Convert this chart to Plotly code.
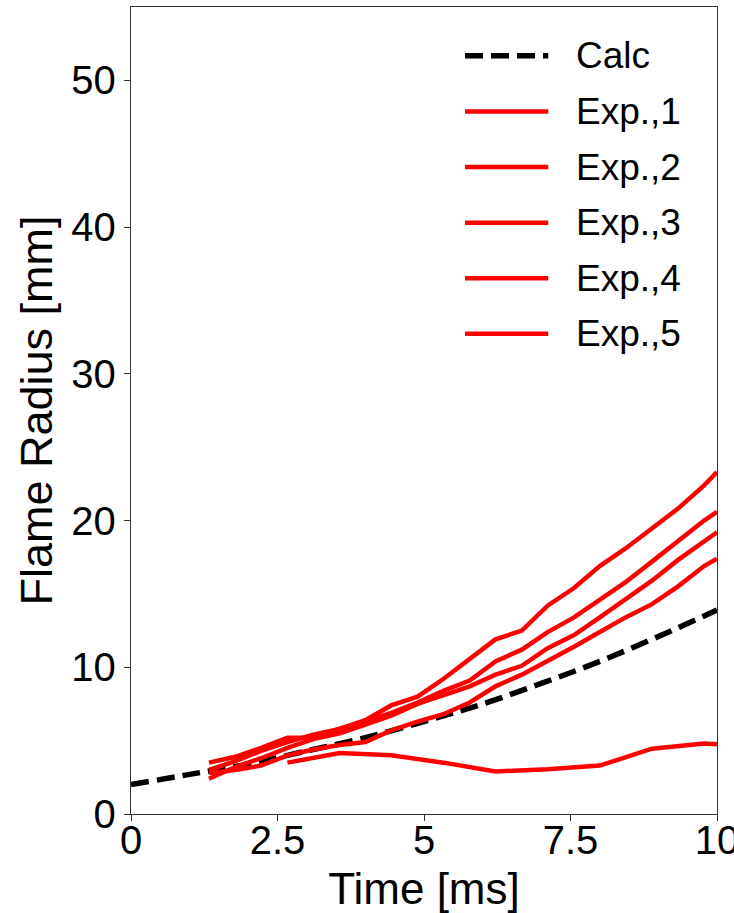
import plotly.graph_objects as go

# Calculated flame radius
calc_t = [0, 1, 2, 3, 4, 5, 6, 7, 8, 9, 10]
calc_r = [2.0, 2.7, 3.4, 4.3, 5.2, 6.3, 7.5, 8.9, 10.4, 12.1, 13.9]

# Experimental runs (time in ms, radius in mm)
t_exp = [1.33, 1.78, 2.22, 2.67, 3.11, 3.56, 4.0, 4.44, 4.89, 5.33, 5.78, 6.22,
         6.67, 7.11, 7.56, 8.0, 8.44, 8.89, 9.33, 9.78, 10.0]
exp1 = [3.5, 3.9, 4.5, 5.2, 5.2, 5.8, 6.4, 7.4, 8.0, 9.2, 10.6, 11.9,
        12.5, 14.2, 15.4, 16.9, 18.1, 19.5, 20.8, 22.4, 23.3]
exp2 = [3.0, 3.6, 4.3, 4.9, 5.4, 5.8, 6.3, 6.9, 7.6, 8.4, 9.1, 10.4,
        11.2, 12.4, 13.4, 14.6, 15.8, 17.2, 18.6, 20.0, 20.6]
exp3 = [2.4, 3.2, 3.8, 4.5, 5.1, 5.5, 6.1, 6.7, 7.5, 8.1, 8.7, 9.5,
        10.1, 11.3, 12.2, 13.4, 14.6, 15.9, 17.3, 18.6, 19.2]
exp4 = [2.8, 3.0, 3.3, 4.0, 4.4, 4.7, 4.9, 5.7, 6.3, 6.8, 7.6, 8.7,
        9.5, 10.4, 11.4, 12.4, 13.4, 14.3, 15.5, 16.9, 17.4]
t_exp5 = [2.67, 3.56, 4.44, 5.33, 6.22, 7.11, 8.0, 8.89, 9.78, 10.0]
exp5 = [3.5, 4.15, 4.0, 3.5, 2.9, 3.05, 3.3, 4.45, 4.8, 4.75]

series_names = ["Calc", "Exp.,1", "Exp.,2", "Exp.,3", "Exp.,4", "Exp.,5"]
x_ticks = [0, 2.5, 5, 7.5, 10]
x_tick_text = ["0", "2.5", "5", "7.5", "10"]
y_ticks = [0, 10, 20, 30, 40, 50]

FONT = "Liberation Sans, Arial, sans-serif"
RED = "#ff0000"
CALC_LINE = dict(color="black", width=5.5, dash="18px,8px")
EXP_LINE = dict(color=RED, width=4.5)

fig = go.Figure()
fig.add_trace(go.Scatter(x=calc_t, y=calc_r, mode="lines", name=series_names[0],
                         line=CALC_LINE, line_shape="spline"))
runs = [(t_exp, exp1), (t_exp, exp2), (t_exp, exp3), (t_exp, exp4), (t_exp5, exp5)]
for name, (tx, ry) in zip(series_names[1:], runs):
    fig.add_trace(go.Scatter(x=tx, y=ry, mode="lines", name=name, line=EXP_LINE))

# Legend drawn in the matplotlib style (long line samples)
leg_x0, leg_x1, leg_tx = 0.5700, 0.7120, 0.7560
leg_y0, leg_dy = 0.9395, 0.0689
for i, name in enumerate(series_names):
    yy = leg_y0 - i * leg_dy
    ln = dict(CALC_LINE) if i == 0 else dict(EXP_LINE)
    fig.add_shape(type="line", xref="paper", yref="paper",
                  x0=leg_x0, x1=leg_x1, y0=yy, y1=yy, line=ln)
    fig.add_annotation(x=leg_tx, y=yy, xref="paper", yref="paper", text=name,
                       showarrow=False, xanchor="left", yanchor="middle",
                       font=dict(size=37, family=FONT, color="black"))

axis_common = dict(showgrid=False, zeroline=False, showline=True, linecolor="#333",
                   linewidth=1.3, mirror=True, ticks="outside", ticklen=6,
                   tickcolor="#333", tickfont=dict(size=40), automargin=False,
                   ticklabeloverflow="allow")

fig.update_layout(
    width=734, height=913,
    margin=dict(l=131, r=17, t=7, b=99),
    paper_bgcolor="white", plot_bgcolor="white",
    font=dict(family=FONT, size=30, color="black"),
    showlegend=False,
    xaxis=dict(range=[0, 10], tickvals=x_ticks, ticktext=x_tick_text,
               ticklabelstandoff=-15,
               title=dict(text="Time [ms]", font=dict(size=44), standoff=18),
               **axis_common),
    yaxis=dict(range=[0, 55], tickvals=y_ticks,
               title=dict(text="Flame Radius [mm]", font=dict(size=45), standoff=4),
               **axis_common),
)

fig.write_html("out.html")
